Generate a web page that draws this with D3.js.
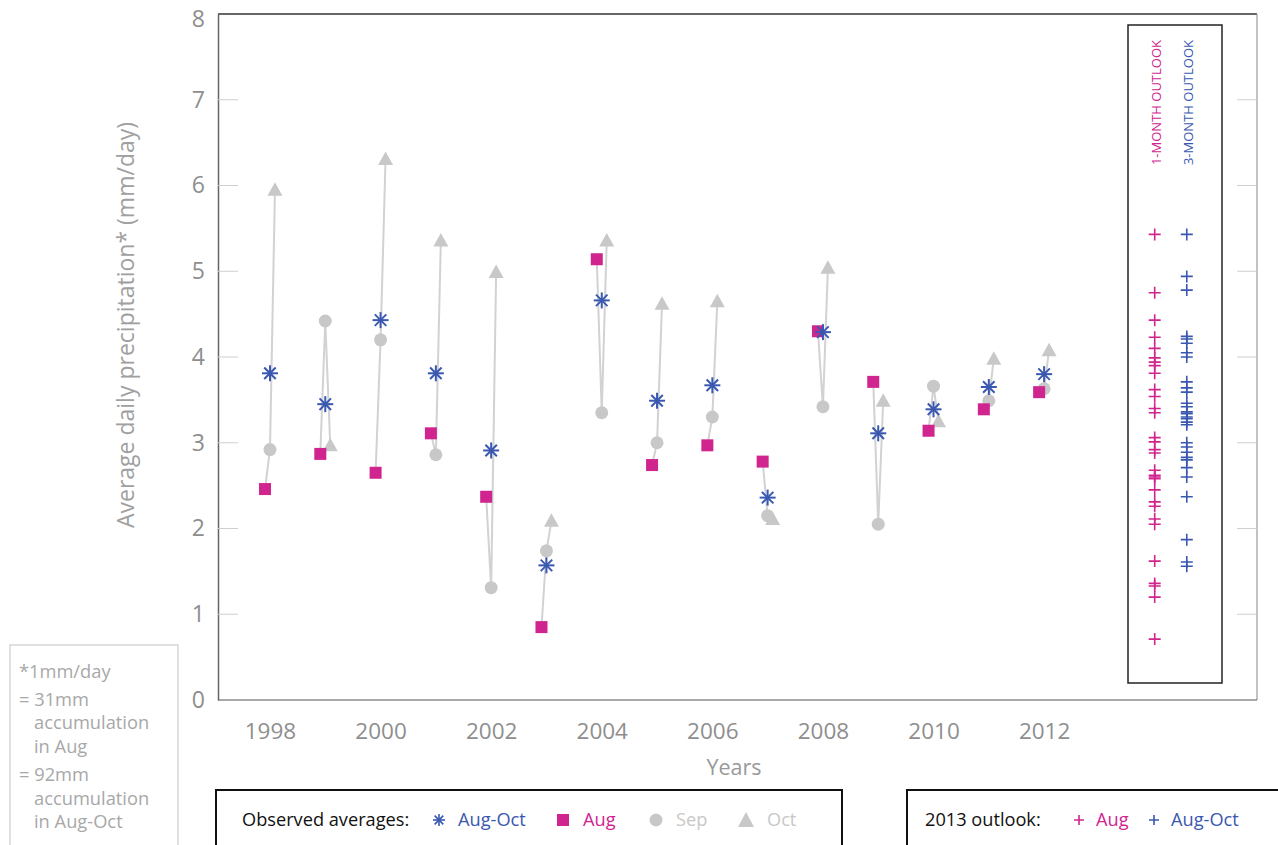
<!DOCTYPE html>
<html>
<head>
<meta charset="utf-8">
<script src="https://cdn.jsdelivr.net/npm/d3@7"></script>
<style>
  body { margin: 0; background: #fff; }
  svg { display: block; font-family: "Open Sans", "Noto Sans", sans-serif; }
</style>
</head>
<body>
<svg id="chart" width="1278" height="845"></svg>
<script>
// ---- data ----
const years = [1998,1999,2000,2001,2002,2003,2004,2005,2006,2007,2008,2009,2010,2011,2012];
const augOct = [3.81,3.45,4.43,3.81,2.91,1.57,4.66,3.49,3.67,2.36,4.29,3.11,3.39,3.65,3.80];
const aug    = [2.46,2.87,2.65,3.11,2.37,0.85,5.14,2.74,2.97,2.78,4.30,3.71,3.14,3.39,3.59];
const sep    = [2.92,4.42,4.20,2.86,1.31,1.74,3.35,3.00,3.30,2.15,3.42,2.05,3.66,3.49,3.63];
const oct    = [5.95,2.97,6.31,5.36,4.99,2.09,5.36,4.62,4.65,2.11,5.04,3.49,3.25,3.98,4.08];
const outlook1Month = [5.43,4.75,4.43,4.23,4.10,3.99,3.94,3.90,3.81,3.62,3.54,3.40,3.35,3.06,3.01,
  2.92,2.88,2.68,2.62,2.60,2.58,2.45,2.31,2.26,2.11,2.05,1.62,1.36,1.33,1.20,0.71];
const outlook3Month = [5.43,4.94,4.78,4.24,4.21,4.16,4.05,4.00,3.71,3.64,3.59,3.46,3.42,3.36,3.34,
  3.30,3.28,3.24,3.21,3.00,2.95,2.89,2.83,2.80,2.71,2.60,2.37,1.87,1.61,1.56];
const yTicks = [0,1,2,3,4,5,6,7,8];
const xTicks = [1998,2000,2002,2004,2006,2008,2010,2012];
const noteLines = ["*1mm/day","= 31mm","accumulation","in Aug","= 92mm","accumulation","in Aug-Oct"];

// ---- styles ----
const PINK = "#d0248f", BLUE = "#3a58b0", GRAY = "#c8c8c8", LINE = "#d2d2d2", TXT = "#8e8e8e";

const svg = d3.select("#chart");
const x = d3.scaleLinear().domain([1997.06, 2015.85]).range([218, 1257]);
const y = d3.scaleLinear().domain([0, 8]).range([700, 14]);

// frame
svg.append("line").attr("x1",218).attr("x2",1257).attr("y1",14).attr("y2",14).attr("stroke","#333").attr("stroke-width",1.5);
svg.append("line").attr("x1",1257).attr("x2",1257).attr("y1",14).attr("y2",700).attr("stroke","#9a9a9a").attr("stroke-width",1.2);
svg.append("line").attr("x1",218).attr("x2",1257).attr("y1",700).attr("y2",700).attr("stroke","#555").attr("stroke-width",1.2);

// left axis
const yAxis = d3.axisLeft(y).tickValues(yTicks).tickSize(0).tickPadding(13);
const gy = svg.append("g").attr("transform","translate(218,0)").call(yAxis);
gy.select(".domain").attr("stroke","#666").attr("stroke-width",1.5);
gy.selectAll("text").attr("font-size",23).attr("fill",TXT).attr("font-family","'Open Sans', sans-serif");
gy.selectAll(".tick").filter(d => d === 8).select("text").attr("dy","0.55em");
// inner ticks
const inner = yTicks.filter(d => d > 0 && d < 8);
svg.append("g").selectAll("line").data(inner).join("line")
  .attr("x1",218).attr("x2",238).attr("y1",d=>y(d)).attr("y2",d=>y(d)).attr("stroke","#cfcfcf");
svg.append("g").selectAll("line").data(inner).join("line")
  .attr("x1",1237).attr("x2",1257).attr("y1",d=>y(d)).attr("y2",d=>y(d)).attr("stroke","#cfcfcf");

// x axis
const xAxis = d3.axisBottom(x).tickValues(xTicks).tickFormat(d3.format("d")).tickSize(0).tickPadding(23);
const gx = svg.append("g").attr("transform","translate(0,700)").call(xAxis);
gx.select(".domain").remove();
gx.selectAll("text").attr("font-size",22.5).attr("fill",TXT).attr("font-family","'Open Sans', sans-serif");

svg.append("text").attr("x",734).attr("y",775).attr("text-anchor","middle")
  .attr("font-size",21.5).attr("fill","#999").text("Years");
svg.append("text").attr("transform","translate(134,325) rotate(-90)").attr("text-anchor","middle")
  .attr("font-size",23).attr("fill","#a0a0a0").text("Average daily precipitation* (mm/day)");

// connecting lines
const OFF = 0.09;
const rows = years.map((yr,i)=>({yr, aug:aug[i], sep:sep[i], oct:oct[i], ao:augOct[i]}));
const lineGen = d3.line().x(d=>d[0]).y(d=>d[1]);
svg.append("g").selectAll("path").data(rows).join("path")
  .attr("d", r => lineGen([[x(r.yr-OFF),y(r.aug)],[x(r.yr),y(r.sep)],[x(r.yr+OFF),y(r.oct)]]))
  .attr("fill","none").attr("stroke",LINE).attr("stroke-width",2);

// markers
svg.append("g").selectAll("circle").data(rows).join("circle")
  .attr("cx",r=>x(r.yr)).attr("cy",r=>y(r.sep)).attr("r",6.5).attr("fill",GRAY);
svg.append("g").selectAll("path").data(rows).join("path")
  .attr("transform",r=>`translate(${x(r.yr+OFF)},${y(r.oct)})`)
  .attr("d","M0,-7.5L7.5,6L-7.5,6Z").attr("fill",GRAY);
svg.append("g").selectAll("rect").data(rows).join("rect")
  .attr("x",r=>x(r.yr-OFF)-6).attr("y",r=>y(r.aug)-6).attr("width",12).attr("height",12).attr("fill",PINK);

function star(g, s) {
  const d = s*0.72;
  g.append("line").attr("x1",-s).attr("x2",s).attr("y1",0).attr("y2",0);
  g.append("line").attr("x1",0).attr("x2",0).attr("y1",-s).attr("y2",s);
  g.append("line").attr("x1",-d).attr("x2",d).attr("y1",-d).attr("y2",d);
  g.append("line").attr("x1",-d).attr("x2",d).attr("y1",d).attr("y2",-d);
}
svg.append("g").selectAll("g").data(rows).join("g")
  .attr("transform",r=>`translate(${x(r.yr)},${y(r.ao)})`)
  .attr("stroke",BLUE).attr("stroke-width",2)
  .each(function(){ star(d3.select(this), 8); });

// outlook box
svg.append("rect").attr("x",1128).attr("y",25).attr("width",94).attr("height",658)
  .attr("fill","none").attr("stroke","#222").attr("stroke-width",1.5);
const x1m = x(2014.0), x3m = x(2014.58);
svg.append("text").attr("transform",`translate(${x1m+6},40) rotate(-90)`).attr("text-anchor","end")
  .attr("font-size",13).attr("fill",PINK).text("1-MONTH OUTLOOK");
svg.append("text").attr("transform",`translate(${x3m+6},40) rotate(-90)`).attr("text-anchor","end")
  .attr("font-size",13).attr("fill",BLUE).text("3-MONTH OUTLOOK");
const plus = "M-6,0H6M0,-6V6";
svg.append("g").selectAll("path").data(outlook1Month).join("path")
  .attr("transform",d=>`translate(${x1m},${y(d)})`).attr("d",plus)
  .attr("stroke",PINK).attr("stroke-width",1.6).attr("fill","none");
svg.append("g").selectAll("path").data(outlook3Month).join("path")
  .attr("transform",d=>`translate(${x3m},${y(d)})`).attr("d",plus)
  .attr("stroke",BLUE).attr("stroke-width",1.6).attr("fill","none");

// note box
svg.append("rect").attr("x",10).attr("y",645).attr("width",168).attr("height",220)
  .attr("fill","none").attr("stroke","#cccccc").attr("stroke-width",1.2);
const noteY = [678,706,729,753,781,805,828];
svg.append("g").selectAll("text").data(noteLines).join("text")
  .attr("x",(d,i)=> (d.startsWith("=") || d.startsWith("*")) ? 19 : 34)
  .attr("y",(d,i)=>noteY[i]).attr("font-size",18.3).attr("fill","#a8a8a8").text(d=>d);

// legend 1
svg.append("rect").attr("x",216).attr("y",790).attr("width",626).attr("height",80)
  .attr("fill","none").attr("stroke","#111").attr("stroke-width",2);
const ly = 826;
const LF = 18.2;
svg.append("text").attr("x",242).attr("y",ly).attr("font-size",LF).attr("fill","#111").text("Observed averages:");
const ls = svg.append("g").attr("transform",`translate(439,${ly-6})`).attr("stroke",BLUE).attr("stroke-width",1.6);
star(ls, 6);
svg.append("text").attr("x",458).attr("y",ly).attr("font-size",LF).attr("fill",BLUE).text("Aug-Oct");
svg.append("rect").attr("x",557).attr("y",ly-12).attr("width",12).attr("height",12).attr("fill",PINK);
svg.append("text").attr("x",583).attr("y",ly).attr("font-size",LF).attr("fill",PINK).text("Aug");
svg.append("circle").attr("cx",656).attr("cy",ly-6).attr("r",6.5).attr("fill",GRAY);
svg.append("text").attr("x",676).attr("y",ly).attr("font-size",LF).attr("fill",GRAY).text("Sep");
svg.append("path").attr("transform",`translate(746,${ly-6})`).attr("d","M0,-8L8,7L-8,7Z").attr("fill",GRAY);
svg.append("text").attr("x",767).attr("y",ly).attr("font-size",LF).attr("fill",GRAY).text("Oct");

// legend 2
svg.append("rect").attr("x",907).attr("y",790).attr("width",400).attr("height",80)
  .attr("fill","none").attr("stroke","#111").attr("stroke-width",2);
svg.append("text").attr("x",925).attr("y",ly).attr("font-size",LF).attr("fill","#111").text("2013 outlook:");
svg.append("path").attr("transform",`translate(1079,${ly-6})`).attr("d","M-5,0H5M0,-5V5").attr("stroke",PINK).attr("stroke-width",1.6);
svg.append("text").attr("x",1096).attr("y",ly).attr("font-size",LF).attr("fill",PINK).text("Aug");
svg.append("path").attr("transform",`translate(1154,${ly-6})`).attr("d","M-5,0H5M0,-5V5").attr("stroke",BLUE).attr("stroke-width",1.6);
svg.append("text").attr("x",1171).attr("y",ly).attr("font-size",LF).attr("fill",BLUE).text("Aug-Oct");
</script>
</body>
</html>
